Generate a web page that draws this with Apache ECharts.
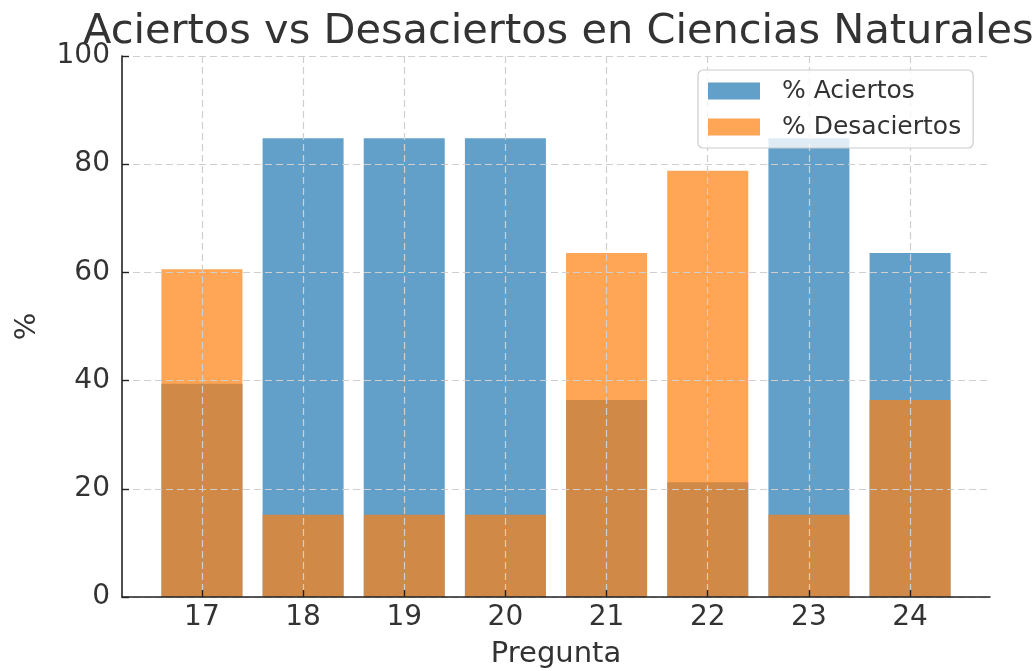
<!DOCTYPE html>
<html>
<head>
<meta charset="utf-8">
<title>Aciertos vs Desaciertos</title>
<script src="https://cdn.jsdelivr.net/npm/echarts@6/dist/echarts.min.js"></script>
<style>
  html, body { margin: 0; padding: 0; background: #fff; }
  #chart { width: 1034px; height: 671px; }
</style>
</head>
<body>
<div id="chart"></div>
<script>
// ---------------------------------------------------
// Data
// ---------------------------------------------------
const preguntas = [17, 18, 19, 20, 21, 22, 23, 24];
const aciertos = [39.4, 84.8, 84.8, 84.8, 36.4, 21.2, 84.8, 63.6];
const desaciertos = [60.6, 15.2, 15.2, 15.2, 63.6, 78.8, 15.2, 36.4];
const yTicks = [0, 20, 40, 60, 80, 100];

const font = "DejaVu Sans";
const textColor = "#333";
const gridLine = { show: true, lineStyle: { color: "#cfcfcf", type: [7, 4], width: 1.2 } };

const toPoints = vals => preguntas.map((p, i) => [p, vals[i]]);

const chart = echarts.init(document.getElementById("chart"));
chart.setOption({
  animation: false,
  backgroundColor: "#fff",
  title: {
    text: "Aciertos vs Desaciertos en Ciencias Naturales",
    left: 78,
    top: 6,
    textStyle: { fontFamily: font, fontSize: 41.5, fontWeight: "normal", color: textColor }
  },
  legend: {
    orient: "vertical",
    left: 698,
    top: 70,
    padding: [8, 12, 8, 10],
    itemGap: 10,
    itemWidth: 52,
    itemHeight: 17,
    backgroundColor: "rgba(255,255,255,0.8)",
    borderColor: "#cccccc",
    borderWidth: 1.2,
    borderRadius: 5,
    icon: "rect",
    textStyle: {
      fontFamily: font, fontSize: 25, color: textColor,
      lineHeight: 26, padding: [0, 0, 0, 17]
    },
    data: ["% Aciertos", "% Desaciertos"]
  },
  grid: { left: 122, right: 44, top: 56, bottom: 74, outerBoundsMode: "none" },
  xAxis: {
    type: "value",
    min: 16.21,
    max: 24.79,
    z: 3,
    name: "Pregunta",
    nameLocation: "middle",
    nameGap: 43,
    nameTextStyle: { fontFamily: font, fontSize: 29, color: textColor },
    axisLine: { show: true, onZero: false, lineStyle: { color: "#222", width: 1.6 } },
    axisTick: { show: true, inside: true, length: 7, customValues: preguntas, lineStyle: { color: "#222", width: 1.4 } },
    axisLabel: { customValues: preguntas, fontFamily: font, fontSize: 28, color: textColor, margin: 7 },
    splitLine: gridLine
  },
  yAxis: {
    type: "value",
    min: 0,
    max: 100,
    interval: 20,
    z: 3,
    name: "%",
    nameLocation: "middle",
    nameGap: 80,
    nameRotate: 90,
    nameTextStyle: { fontFamily: font, fontSize: 29, color: textColor },
    axisLine: { show: true, lineStyle: { color: "#222", width: 1.6 } },
    axisTick: { show: true, inside: true, length: 7, lineStyle: { color: "#222", width: 1.4 } },
    axisLabel: { fontFamily: font, fontSize: 28, color: textColor, margin: 12 },
    splitLine: gridLine
  },
  series: [
    {
      name: "% Aciertos",
      type: "bar",
      barWidth: 81,
      barGap: "-100%",
      itemStyle: { color: "rgba(31,119,180,0.7)" },
      data: toPoints(aciertos)
    },
    {
      name: "% Desaciertos",
      type: "bar",
      barWidth: 81,
      barGap: "-100%",
      itemStyle: { color: "rgba(255,127,14,0.7)" },
      data: toPoints(desaciertos)
    }
  ]
});
</script>
</body>
</html>
